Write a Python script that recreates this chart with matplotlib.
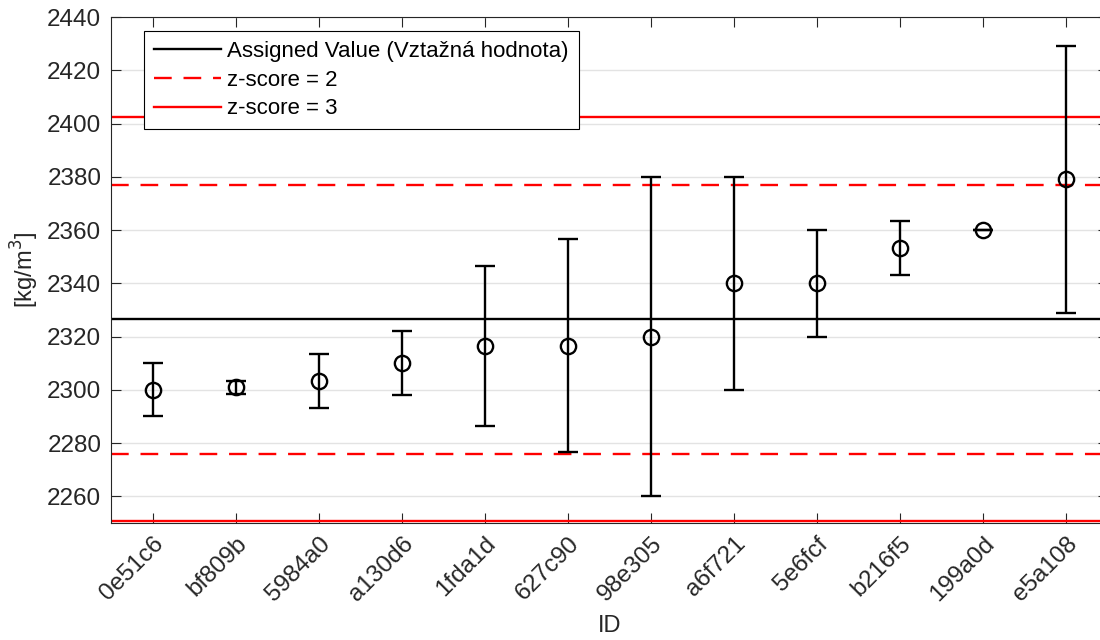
import matplotlib
matplotlib.use("Agg")
import matplotlib.pyplot as plt

plt.rcParams['font.family'] = ['Liberation Sans', 'DejaVu Sans']

ids = ['0e51c6', 'bf809b', '5984a0', 'a130d6', '1fda1d', '627c90',
       '98e305', 'a6f721', '5e6fcf', 'b216f5', '199a0d', 'e5a108']
values = [2300, 2301, 2303.3, 2310, 2316.6, 2316.6,
          2320, 2340, 2340, 2353.3, 2360, 2379]
errors = [10, 2.5, 10, 12, 30, 40, 60, 40, 20, 10, 0, 50]

assigned = 2326.5
sigma = 25.3

fig = plt.figure(figsize=(11, 6.4), dpi=100)
ax = fig.add_axes([111 / 1100, 117 / 640, 997 / 1100, 506 / 640])

x = list(range(1, len(ids) + 1))

ax.axhline(assigned, color='black', lw=1.7, label='Assigned Value (Vztažná hodnota)', zorder=2)
ax.axhline(assigned + 2 * sigma, color='red', lw=1.7, dashes=(7.5, 5), label='z-score = 2', zorder=2)
ax.axhline(assigned - 2 * sigma, color='red', lw=1.7, dashes=(7.5, 5), zorder=2)
ax.axhline(assigned + 3 * sigma, color='red', lw=1.7, label='z-score = 3', zorder=2)
ax.axhline(assigned - 3 * sigma, color='red', lw=1.7, zorder=2)

ax.errorbar(x, values, yerr=errors, fmt='o', color='black', mfc='none',
            mec='black', ms=11, mew=1.7, elinewidth=1.7, capsize=7, capthick=1.7, zorder=3)

ax.set_xlim(0.5, 12.5)
ax.set_ylim(2250, 2440)
ax.set_yticks(range(2260, 2441, 20))
ax.set_xticks(x)
ax.set_xticklabels(ids, rotation=45, ha='right', rotation_mode='anchor')

ax.yaxis.grid(True, color='#e3e3e3', lw=1)
ax.set_axisbelow(True)
ax.tick_params(direction='in', length=7, width=0.8, color='#262626',
               labelsize=17.5, labelcolor='#262626', top=True, right=True, pad=7)
for s in ax.spines.values():
    s.set_color('#262626')
    s.set_linewidth(0.8)

ax.set_ylabel('[kg/m$^3$]', fontsize=17, color='#262626', labelpad=4)
ax.set_xlabel('ID', fontsize=17, color='#262626', labelpad=7)

leg = ax.legend(loc='upper left', bbox_to_anchor=(0.033, 0.972), fontsize=16,
                frameon=True, fancybox=False, edgecolor='black', framealpha=1,
                borderaxespad=0, handlelength=3.0, borderpad=0.45,
                labelspacing=0.34, handletextpad=0.3)
leg.get_frame().set_linewidth(0.8)

fig.savefig('out.png', dpi=100)
